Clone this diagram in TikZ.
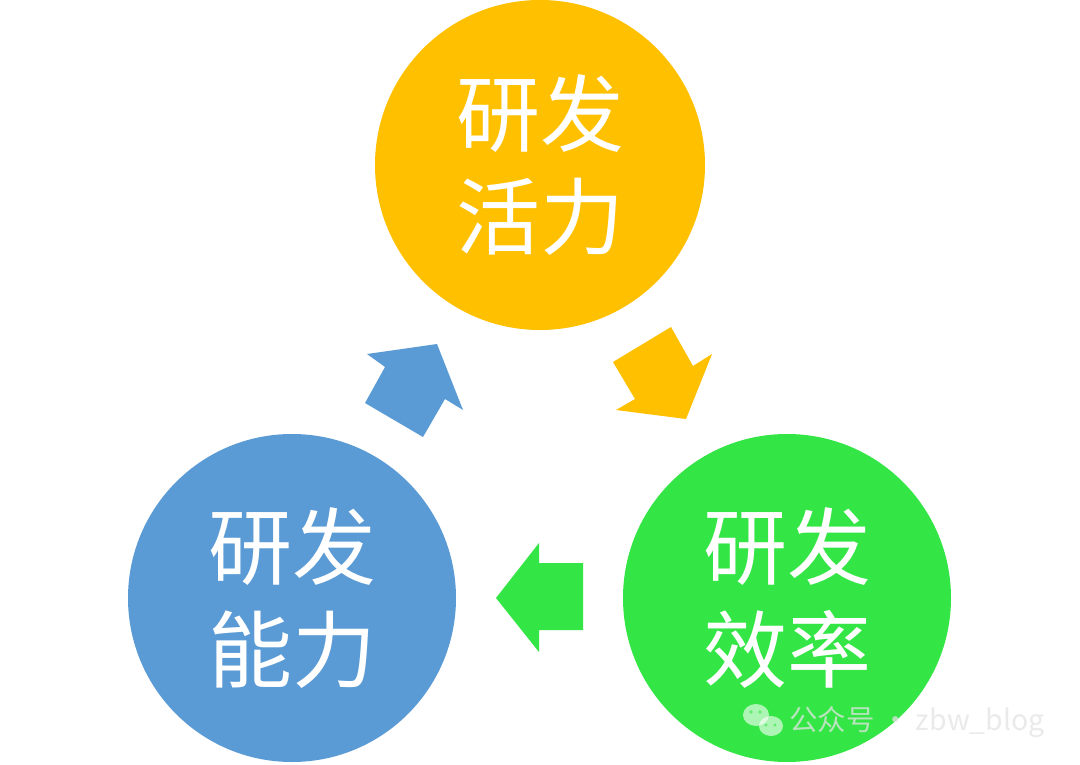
\documentclass[tikz,border=0pt]{standalone}
\usepackage{fontspec}
\newfontfamily\cjk{Noto Sans CJK SC}
\definecolor{cOrange}{HTML}{FFC000}
\definecolor{cBlue}{HTML}{5B9BD5}
\definecolor{cGreen}{HTML}{33E645}
\definecolor{cMark}{HTML}{E4E4E4}
\begin{document}
\begin{tikzpicture}[x=1pt,y=-1pt,
  bubble/.style={circle,minimum size=330pt,inner sep=0pt,text=white,align=center,
    font=\cjk\fontsize{84}{103}\selectfont},
  wmark/.style={font=\cjk\fontsize{28.5}{30}\selectfont,text=cMark,text opacity=0.75,inner sep=0pt,anchor=west}]
\useasboundingbox (0,0) rectangle (1080,765);
\fill[white] (0,0) rectangle (1080,765);
\node[bubble,fill=cOrange] (top) at (540,165) {研发\\活力};
\node[bubble,fill=cBlue,minimum size=328pt] (left) at (292,598) {研发\\能力};
\node[bubble,fill=cGreen,minimum size=328pt] (right) at (787,598) {研发\\效率};
% arrows
\fill[cBlue] (365,403) -- (385,367) -- (367,354) -- (437,344) -- (463,410) -- (445,399) -- (423,437) -- cycle;
\fill[cOrange] (613,362) -- (671,327) -- (693,366) -- (712,354) -- (686,419) -- (616,410) -- (635,399) -- cycle;
\fill[cGreen] (583,563) -- (539,563) -- (539,543) -- (496,598) -- (539,652) -- (539,630) -- (583,630) -- cycle;
% watermark
\begin{scope}[opacity=0.6]
\fill[white] (756,715) ellipse (13 and 11);
\fill[white] (771,726) ellipse (12 and 10);
\fill[cGreen] (751,712) circle (1.8) (760,712) circle (1.8) (766,725) circle (1.6) (775,725) circle (1.6);
\end{scope}
\node[wmark] (wm) at (789,722) {公众号 · zbw\_blog};
\end{tikzpicture}
\end{document}
